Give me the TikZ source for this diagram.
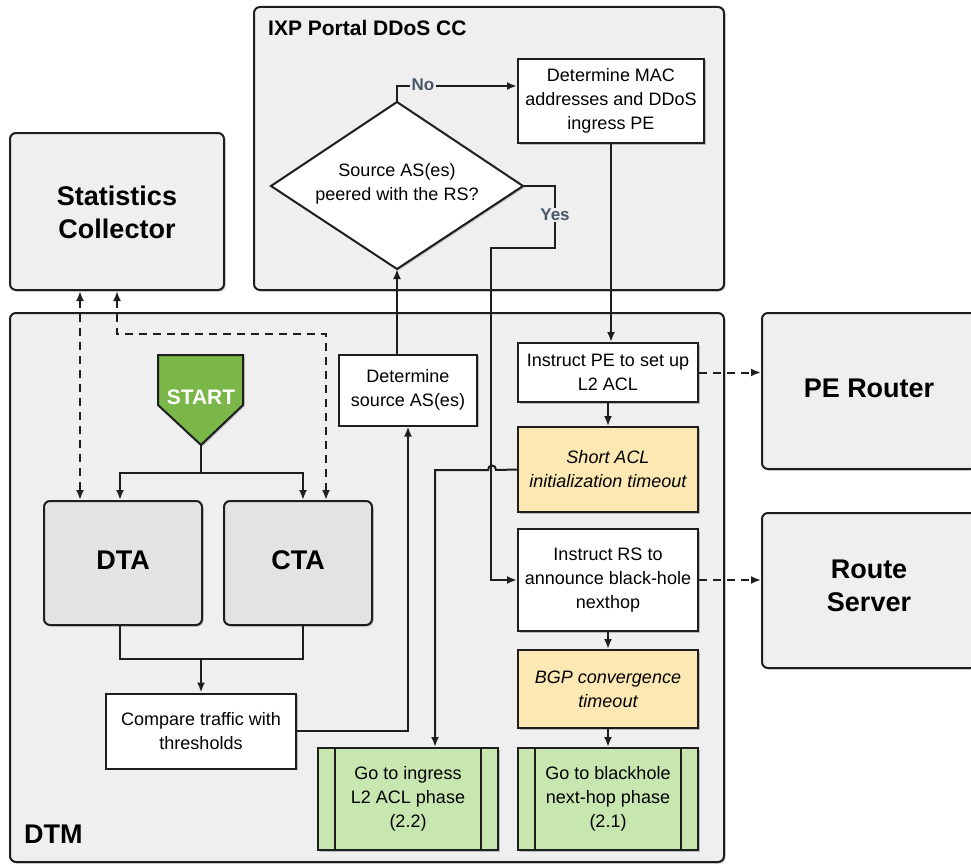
\documentclass[tikz,border=0pt]{standalone}
\usepackage{fontspec}
\setmainfont{Liberation Sans}
\usetikzlibrary{arrows.meta,shadows,calc}

\definecolor{panel}{HTML}{EFEFEF}
\definecolor{agent}{HTML}{E3E3E3}
\definecolor{waitfill}{HTML}{FCE8B2}
\definecolor{phasefill}{HTML}{C7E6B0}
\definecolor{startgreen}{HTML}{7AB648}
\definecolor{edge}{HTML}{1E1E1E}
\definecolor{slate}{HTML}{4B5666}

\begin{document}
\begin{tikzpicture}[x=1pt,y=-1pt,
  every node/.style={font=\fontsize{18}{24}\selectfont, text=black},
  shade/.style={drop shadow={shadow xshift=1.5pt, shadow yshift=-1.5pt, opacity=0.22, fill=black}},
  frame/.style={draw=edge, line width=2pt, fill=panel, rounded corners=6pt, inner sep=0pt, shade, align=center},
  bigtext/.style={font=\bfseries\fontsize{27}{33}\selectfont, align=center},
  procbox/.style={draw=edge, line width=2pt, fill=white, align=center, inner sep=0pt, shade},
  waitbox/.style={procbox, fill=waitfill, font=\itshape\fontsize{18}{24}\selectfont},
  phasebox/.style={procbox, fill=phasefill},
  agentbox/.style={draw=edge, line width=2pt, fill=agent, rounded corners=6pt, inner sep=0pt, shade},
  conn/.style={draw=edge, line width=2pt},
  arr/.style={conn, -{Latex[length=10pt,width=8pt]}},
  dasharr/.style={arr, dash pattern=on 8pt off 6pt},
  bothdash/.style={conn, dash pattern=on 8pt off 6pt, {Latex[length=10pt,width=8pt]}-{Latex[length=10pt,width=8pt]}},
  lbl/.style={font=\bfseries\fontsize{17}{20}\selectfont, text=slate, fill=panel, inner sep=1.5pt}
]
\useasboundingbox (0,0) rectangle (971,864);
\clip (0,0) rectangle (971,864);

% ---- containers ----
\node[frame, minimum width=470pt, minimum height=283pt] (ixp) at (489,148.5) {};
\node[font=\bfseries\fontsize{21}{25}\selectfont, anchor=base west, inner sep=0pt] (ixptitle) at (268,36) {IXP Portal DDoS CC};
\node[frame, minimum width=214pt, minimum height=157pt] (stats) at (117,211.5) {};
\node[bigtext, inner sep=0pt] (statstext) at (117,212) {Statistics\\Collector};
\node[frame, minimum width=714pt, minimum height=549pt] (dtm) at (367,587.5) {};
\node[bigtext, anchor=base west, inner sep=0pt] (dtmtitle) at (24,843) {DTM};
\node[frame, minimum width=214pt, minimum height=156pt] (pe) at (869,391) {};
\node[bigtext, inner sep=0pt] (petext) at (869,388) {PE Router};
\node[frame, minimum width=214pt, minimum height=155pt] (rs) at (869,590.5) {};
\node[bigtext, inner sep=0pt] (rstext) at (869,586) {Route\\Server};

% ---- decision ----
\coordinate (dtop) at (397,102);
\coordinate (dbot) at (397,269);
\coordinate (dleft) at (271,186);
\coordinate (dright) at (523,186);
\draw[draw=edge, line width=2pt, fill=white, shade] (dtop) -- (dright) -- (dbot) -- (dleft) -- cycle;
\node[align=center, inner sep=0pt] (question) at (397,184) {Source AS(es)\\peered with the RS?};

% ---- process boxes ----
\node[procbox, minimum width=186pt, minimum height=84pt] (mac) at (611,101) {Determine MAC\\addresses and DDoS\\ingress PE};
\node[procbox, minimum width=180pt, minimum height=59pt] (ipe) at (608,372.5) {Instruct PE to set up\\L2 ACL};
\node[waitbox, minimum width=180pt, minimum height=85pt] (sacl) at (608,469.5) {Short ACL\\initialization timeout};
\node[procbox, minimum width=180pt, minimum height=102pt] (irs) at (608,580) {Instruct RS to\\announce black-hole\\nexthop};
\node[waitbox, minimum width=180pt, minimum height=78pt] (bgp) at (608,689) {BGP convergence\\timeout};
\node[phasebox, minimum width=180pt, minimum height=102pt] (gbh) at (608,799) {Go to blackhole\\next-hop phase\\(2.1)};
\node[phasebox, minimum width=180pt, minimum height=102pt] (gin) at (408,799) {Go to ingress\\L2 ACL phase\\(2.2)};
\foreach \n in {gbh,gin}{
  \draw[draw=edge, line width=2pt] ([xshift=18pt]\n.north west) -- ([xshift=18pt]\n.south west);
  \draw[draw=edge, line width=2pt] ([xshift=-18pt]\n.north east) -- ([xshift=-18pt]\n.south east);
}
\node[procbox, minimum width=190pt, minimum height=75pt] (cmp) at (201,731) {Compare traffic with\\thresholds};
\node[procbox, minimum width=138pt, minimum height=71pt] (dsrc) at (408,390) {Determine\\source AS(es)};

% ---- agents ----
\node[agentbox, minimum width=158pt, minimum height=124pt] (dta) at (123,563) {};
\node[bigtext, inner sep=0pt] (dtatext) at (123,560) {DTA};
\node[agentbox, minimum width=148pt, minimum height=124pt] (cta) at (298,563) {};
\node[bigtext, inner sep=0pt] (ctatext) at (298,560) {CTA};

% ---- start marker ----
\coordinate (starttip) at (201,445);
\draw[draw=edge, line width=2pt, fill=startgreen, shade] (158,355) -- (243,355) -- (243,405) -- (starttip) -- (158,405) -- cycle;
\node[font=\bfseries\fontsize{21}{25}\selectfont, text=white, inner sep=0pt] (start) at (201,397) {START};

% ---- connectors ----
\coordinate (split) at (201,473);
\draw[conn] (starttip) -- (split);
\draw[arr] (split) -| ([xshift=-3pt]dta.north);
\draw[arr] (split) -| ([xshift=5pt]cta.north);

\draw[bothdash] ([xshift=-43pt]dta.north |- stats.south) -- ([xshift=-43pt]dta.north);
\draw[bothdash] (stats.south) -- ++(0,43) -| ([xshift=28pt]cta.north);

\coordinate (join) at (201,659);
\draw[conn] ([xshift=-3pt]dta.south) |- (join) -| ([xshift=5pt]cta.south);
\draw[arr] (join) -- (cmp.north);

\draw[arr] (cmp.east) -| (dsrc.south);
\draw[arr] ([xshift=-11pt]dsrc.north) -- (dbot);

\draw[arr] (dtop) |- ([yshift=15pt]mac.west);
\node[lbl] (nolbl) at (423,85) {No};

\draw[arr] (dright) -| (555,248) -| ([xshift=-26pt]irs.west) -- (irs.west);
\node[lbl] (yeslbl) at (555,215) {Yes};

\draw[arr] (mac.south) -- (mac.south |- ipe.north);
\draw[arr] (ipe.south) -- (sacl.north);

\coordinate (hopR) at (496,470);
\coordinate (hopL) at (488,470);
\draw[arr] (sacl.west) -- (hopR) .. controls +(0,-6) and +(0,-6) .. (hopL) -| ([xshift=27pt]gin.north);

\draw[arr] (irs.south) -- (bgp.north);
\draw[arr] (bgp.south) -- (gbh.north);

\draw[dasharr] (ipe.east) -- (ipe.east -| pe.west);
\draw[dasharr] (irs.east) -- (irs.east -| rs.west);
\end{tikzpicture}
\end{document}
